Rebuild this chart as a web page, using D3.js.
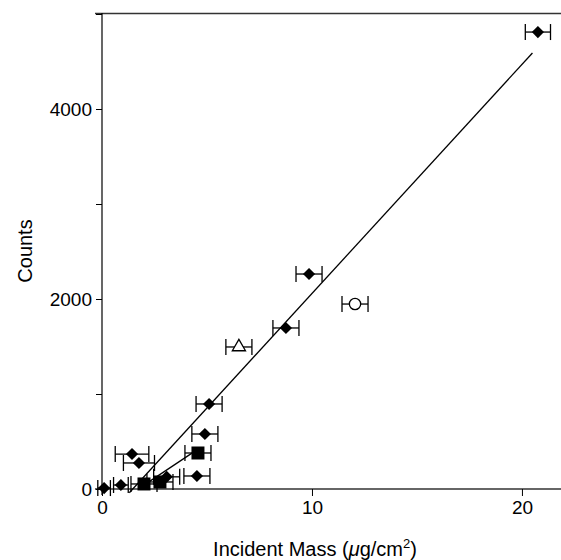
<!DOCTYPE html>
<html>
<head>
<meta charset="utf-8">
<script src="https://cdn.jsdelivr.net/npm/d3@7"></script>
<style>
  body { margin: 0; background: #fff; }
  text { font-family: "Liberation Sans", Arial, sans-serif; fill: #000; }
</style>
</head>
<body>
<script>
// Data: [mass, counts, mass error]
const diamonds = [
  [0.1, 10, 0.3], [0.9, 42, 0.35], [1.43, 368, 0.8], [1.76, 274, 0.74],
  [3.08, 128, 0.62], [4.52, 137, 0.62], [4.9, 579, 0.62], [5.1, 895, 0.62],
  [8.76, 1695, 0.62], [9.86, 2263, 0.62], [20.76, 4810, 0.6]
];
const squares = [[2.0, 53, 0.62], [2.76, 74, 0.62], [4.57, 379, 0.62]];
const triangles = [[6.52, 1495, 0.62]];
const circles = [[12.05, 1947, 0.62]];

// fit lines, end points
const fitAll = [[1.3, -40], [20.5, 4590]];
const fitSquares = [[2.0, 41], [4.57, 420]];

const xTicks = [0, 10, 20];
const yTicks = [0, 2000, 4000];
const yMinor = [1000, 3000, 5000];

const W = 561, H = 560;
const svg = d3.select("body").append("svg").attr("width", W).attr("height", H);

const x = d3.scaleLinear().domain([0, 21.86]).range([102, 561]);
const y = d3.scaleLinear().domain([0, 5000]).range([489, 14]);

// frame lines
svg.append("line").attr("x1", 95).attr("x2", W).attr("y1", y(0)).attr("y2", y(0))
  .attr("stroke", "#333").attr("stroke-width", 1.6);
svg.append("line").attr("x1", 95).attr("x2", W).attr("y1", 13.5).attr("y2", 13.5)
  .attr("stroke", "#333").attr("stroke-width", 1.6);
svg.append("line").attr("x1", x(0)).attr("x2", x(0)).attr("y1", 13).attr("y2", 495)
  .attr("stroke", "#000").attr("stroke-width", 1.2);

// y axis
const yAxis = svg.append("g").attr("transform", `translate(${x(0)},0)`)
  .call(d3.axisLeft(y).tickValues(yTicks).tickSize(6).tickPadding(4).tickFormat(d3.format("d")));
yAxis.select(".domain").remove();
yAxis.selectAll("text").style("font-size", "19px");
svg.append("g").attr("transform", `translate(${x(0)},0)`)
  .call(d3.axisLeft(y).tickValues(yMinor).tickSize(6).tickFormat(""))
  .select(".domain").remove();

// x axis
const xAxis = svg.append("g").attr("transform", `translate(0,${y(0)})`)
  .call(d3.axisBottom(x).tickValues(xTicks).tickSize(7).tickPadding(5));
xAxis.select(".domain").remove();
xAxis.selectAll("text").style("font-size", "19px");

// labels
svg.append("text")
  .attr("transform", `translate(32,${(13 + 489) / 2}) rotate(-90)`)
  .attr("text-anchor", "middle").style("font-size", "20px").text("Counts");
const xl = svg.append("text").attr("x", 315).attr("y", 556)
  .attr("text-anchor", "middle").style("font-size", "20px");
xl.append("tspan").text("Incident Mass (");
xl.append("tspan").style("font-style", "italic").text("\u03bc");
xl.append("tspan").text("g/cm");
xl.append("tspan").attr("dy", -8).style("font-size", "13px").text("2");
xl.append("tspan").attr("dy", 8).text(")");

// fit lines
const line = d3.line().x(d => x(d[0])).y(d => y(d[1]));
[fitAll, fitSquares].forEach(f => {
  svg.append("path").attr("d", line(f)).attr("fill", "none")
    .attr("stroke", "#000").attr("stroke-width", 1.3);
});

// error bars
const all = diamonds.concat(squares, triangles, circles);
const eb = svg.append("g").attr("stroke", "#000").attr("stroke-width", 1.3);
all.forEach(d => {
  const cy = y(d[1]);
  eb.append("line").attr("x1", x(d[0] - d[2])).attr("x2", x(d[0] + d[2]))
    .attr("y1", cy).attr("y2", cy);
  [d[0] - d[2], d[0] + d[2]].forEach(v => {
    eb.append("line").attr("x1", x(v)).attr("x2", x(v))
      .attr("y1", cy - 8).attr("y2", cy + 8);
  });
});

// markers
svg.selectAll(".dia").data(diamonds).join("path")
  .attr("d", d3.symbol(d3.symbolSquare, 74))
  .attr("transform", d => `translate(${x(d[0])},${y(d[1])}) rotate(45)`)
  .attr("fill", "#000");
svg.selectAll(".sq").data(squares).join("path")
  .attr("d", d3.symbol(d3.symbolSquare, 169))
  .attr("transform", d => `translate(${x(d[0])},${y(d[1])})`)
  .attr("fill", "#000");
svg.selectAll(".tri").data(triangles).join("path")
  .attr("d", d3.symbol(d3.symbolTriangle, 75))
  .attr("transform", d => `translate(${x(d[0])},${y(d[1])})`)
  .attr("fill", "#fff").attr("stroke", "#000").attr("stroke-width", 1.3);
svg.selectAll(".circ").data(circles).join("path")
  .attr("d", d3.symbol(d3.symbolCircle, 100))
  .attr("transform", d => `translate(${x(d[0])},${y(d[1])})`)
  .attr("fill", "#fff").attr("stroke", "#000").attr("stroke-width", 1.3);
</script>
</body>
</html>
